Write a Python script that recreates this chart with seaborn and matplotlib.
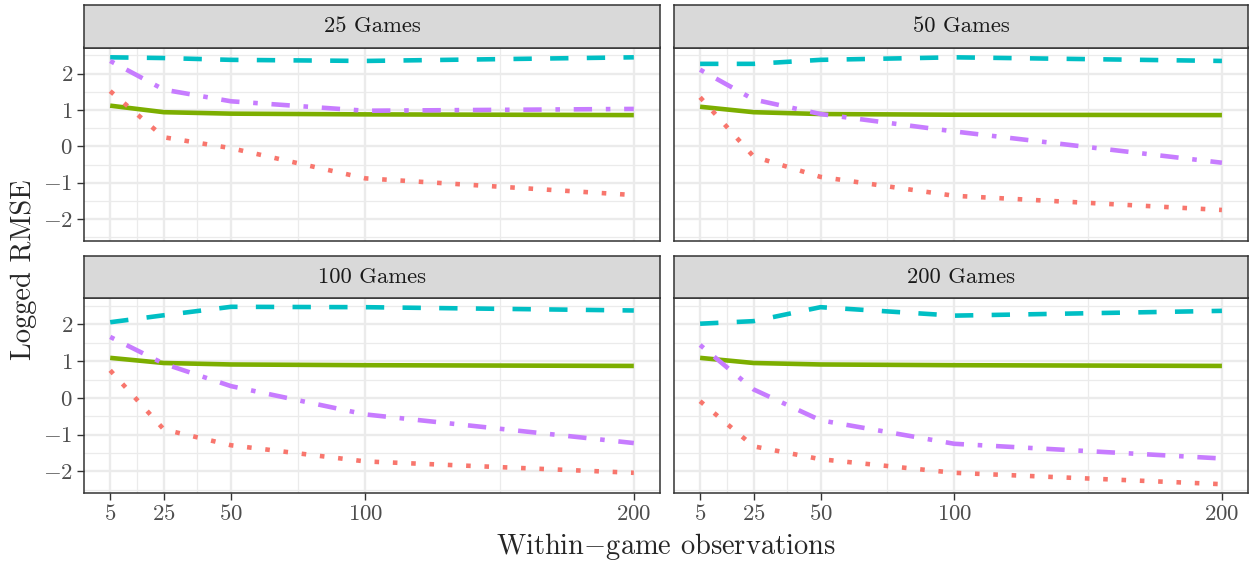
import numpy as np
import pandas as pd
import matplotlib
matplotlib.use("Agg")
import matplotlib.pyplot as plt
from matplotlib.ticker import FixedLocator
import seaborn as sns

# within-game observations (x) and number of games (facets)
obs = [5, 25, 50, 100, 200]
games = [25, 50, 100, 200]

# logged RMSE per model, one row per facet (25, 50, 100, 200 games)
model_dotted = [[1.52, 0.25, -0.05, -0.88, -1.34],
                [1.35, -0.28, -0.84, -1.36, -1.75],
                [0.75, -0.86, -1.29, -1.73, -2.04],
                [-0.09, -1.32, -1.67, -2.04, -2.35]]
model_solid = [[1.12, 0.94, 0.90, 0.88, 0.86],
               [1.09, 0.94, 0.89, 0.87, 0.86],
               [1.09, 0.95, 0.91, 0.89, 0.87],
               [1.09, 0.95, 0.91, 0.89, 0.87]]
model_dashed = [[2.45, 2.43, 2.38, 2.35, 2.45],
                [2.27, 2.27, 2.38, 2.45, 2.35],
                [2.06, 2.25, 2.48, 2.47, 2.38],
                [2.02, 2.09, 2.47, 2.24, 2.37]]
model_dotdash = [[2.35, 1.56, 1.24, 0.98, 1.03],
                 [2.11, 1.29, 0.89, 0.41, -0.45],
                 [1.66, 0.93, 0.32, -0.45, -1.23],
                 [1.44, 0.23, -0.61, -1.25, -1.65]]

models = {"A": model_solid, "B": model_dashed, "C": model_dotdash, "D": model_dotted}
palette = {"A": "#7CAE00", "B": "#00BFC4", "C": "#C77CFF", "D": "#F8766D"}
dashes = {"A": "", "B": (4, 4), "C": (1, 3, 4, 3), "D": (1, 3)}

rows = []
for name, vals in models.items():
    for gi, g in enumerate(games):
        for xi, x in enumerate(obs):
            rows.append({"games": g, "obs": x, "rmse": vals[gi][xi], "model": name})
df = pd.DataFrame(rows)

sns.set_theme(style="white")
plt.rcParams["font.family"] = "serif"
plt.rcParams["font.serif"] = ["cmr10"]
plt.rcParams["mathtext.fontset"] = "cm"
plt.rcParams["axes.formatter.use_mathtext"] = True

W, H = 1256, 561
fig = plt.figure(figsize=(W / 100, H / 100), dpi=100)

lefts = [84, 674]
widths = [576, 574]
tops = [47.5, 298]
bottoms = [240.5, 493]
strip_tops = [5, 256]

grid_col = "#EBEBEB"
dark = "#333333"

for i, g in enumerate(games):
    r, c = divmod(i, 2)
    x0 = lefts[c] / W
    w = widths[c] / W
    y0 = 1 - bottoms[r] / H
    h = (bottoms[r] - tops[r]) / H
    ax = fig.add_axes([x0, y0, w, h])
    sub = df[df["games"] == g]
    sns.lineplot(data=sub, x="obs", y="rmse", hue="model", style="model",
                 palette=palette, dashes=dashes, hue_order=list(models),
                 style_order=list(models), linewidth=3.3, legend=False, ax=ax)
    for ln in ax.get_lines():
        ln.set_dash_capstyle("butt")
        ln.set_solid_capstyle("butt")
    ax.set_xlim(-4.75, 209.75)
    ax.set_ylim(-2.59, 2.72)
    ax.xaxis.set_major_locator(FixedLocator(obs))
    ax.xaxis.set_minor_locator(FixedLocator([15, 37.5, 75, 150]))
    ax.yaxis.set_major_locator(FixedLocator([-2, -1, 0, 1, 2]))
    ax.yaxis.set_minor_locator(FixedLocator([-2.5, -1.5, -0.5, 0.5, 1.5, 2.5]))
    ax.grid(True, which="major", color=grid_col, linewidth=1.7)
    ax.grid(True, which="minor", color=grid_col, linewidth=0.9)
    ax.set_axisbelow(True)
    ax.set_facecolor("white")
    for sp in ax.spines.values():
        sp.set_visible(True)
        sp.set_color(dark)
        sp.set_linewidth(1.1)
    ax.set_xlabel("")
    ax.set_ylabel("")
    ax.tick_params(which="minor", length=0)
    ax.tick_params(which="major", length=5, width=1, color=dark,
                   labelsize=16.5, labelcolor="#4D4D4D", pad=3)
    ax.tick_params(axis="x", bottom=(r == 1), labelbottom=(r == 1))
    ax.tick_params(axis="y", left=(c == 0), labelleft=(c == 0))

    # facet strip
    sax = fig.add_axes([x0, 1 - tops[r] / H, w, (tops[r] - strip_tops[r]) / H])
    sax.set_facecolor("#D9D9D9")
    sax.set_xticks([])
    sax.set_yticks([])
    for sp in sax.spines.values():
        sp.set_color(dark)
        sp.set_linewidth(1.1)
    sax.text(0.5, 0.5, f"{g} Games", ha="center", va="center",
             fontsize=16.3, color="#1A1A1A", transform=sax.transAxes)

fig.text((84 + 1248) / 2 / W, 1 - 546 / H, "Within$-$game observations",
         ha="center", va="center", fontsize=20.5)
fig.text(24 / W, 1 - 270 / H, "Logged RMSE", ha="center", va="center",
         rotation=90, fontsize=20.5)

fig.savefig("out.png", dpi=100, facecolor="white")
